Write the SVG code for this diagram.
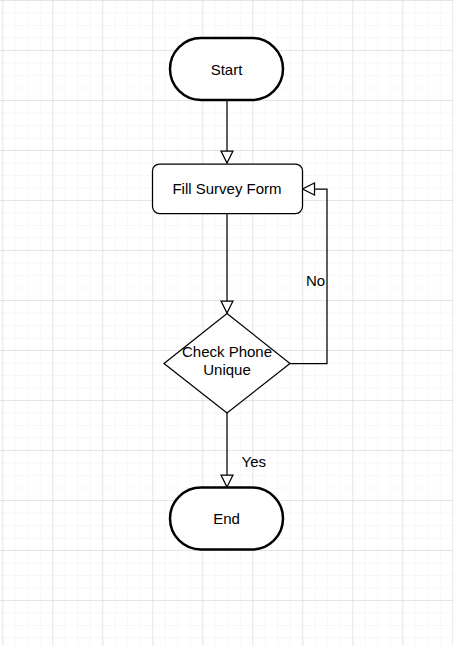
<svg xmlns="http://www.w3.org/2000/svg" width="453" height="646" viewBox="0 0 453 646">
  <defs>
    <pattern id="minor" x="2.3" y="0" width="12.5" height="12.5" patternUnits="userSpaceOnUse">
      <path d="M0 0 V12.5 M0 0 H12.5" fill="none" stroke="#f0f0f0" stroke-width="1"/>
    </pattern>
    <pattern id="major" x="2.3" y="0" width="50" height="50" patternUnits="userSpaceOnUse">
      <path d="M0 0 V50 M0 0 H50" fill="none" stroke="#d4d4d4" stroke-width="1"/>
    </pattern>
    <marker id="arr" viewBox="0 0 14 14" refX="13" refY="7" markerWidth="14" markerHeight="14" markerUnits="userSpaceOnUse" orient="auto">
      <path d="M1 1 L13 7 L1 13 Z" fill="#fff" stroke="#000" stroke-width="1.25"/>
    </marker>
    <style>
      .t { font-family: "Liberation Sans", Arial, sans-serif; font-size: 15px; fill: #000; text-anchor: middle; }
      .l { font-family: "Liberation Sans", Arial, sans-serif; font-size: 15px; fill: #000; }
      .term { fill: #fff; stroke: #000; stroke-width: 2.5; }
      .box { fill: #fff; stroke: #000; stroke-width: 1.25; }
      .edge { fill: none; stroke: #000; stroke-width: 1.25; }
    </style>
  </defs>
  <rect width="453" height="646" fill="#fff"/>
  <rect width="453" height="646" fill="url(#minor)"/>
  <rect width="453" height="646" fill="url(#major)"/>

  <g id="connectors">
    <path class="edge" d="M227 100 V163" marker-end="url(#arr)"/>
    <path class="edge" d="M227 213.5 V313" marker-end="url(#arr)"/>
    <path class="edge" d="M290 363.5 H327 V189 H302.5" marker-end="url(#arr)"/>
    <path class="edge" d="M227 413 V487" marker-end="url(#arr)"/>
    <text class="l" x="306" y="286">No</text>
    <text class="l" x="241.5" y="467">Yes</text>
  </g>

  <g id="start">
    <rect class="term" x="170" y="38" width="113" height="62" rx="31" ry="31"/>
    <text class="t" x="226.5" y="75">Start</text>
  </g>

  <g id="fill-survey-form">
    <rect class="box" x="152.5" y="164" width="150" height="49.5" rx="7" ry="7"/>
    <text class="t" x="227" y="194">Fill Survey Form</text>
  </g>

  <g id="check-phone-unique">
    <path class="box" d="M227 313.5 L290 363.5 L227 413 L164 363.5 Z"/>
    <text class="t" x="227" y="357">Check Phone</text>
    <text class="t" x="227" y="375">Unique</text>
  </g>

  <g id="end">
    <rect class="term" x="170" y="487.5" width="113" height="62" rx="31" ry="31"/>
    <text class="t" x="226.5" y="524">End</text>
  </g>
</svg>
